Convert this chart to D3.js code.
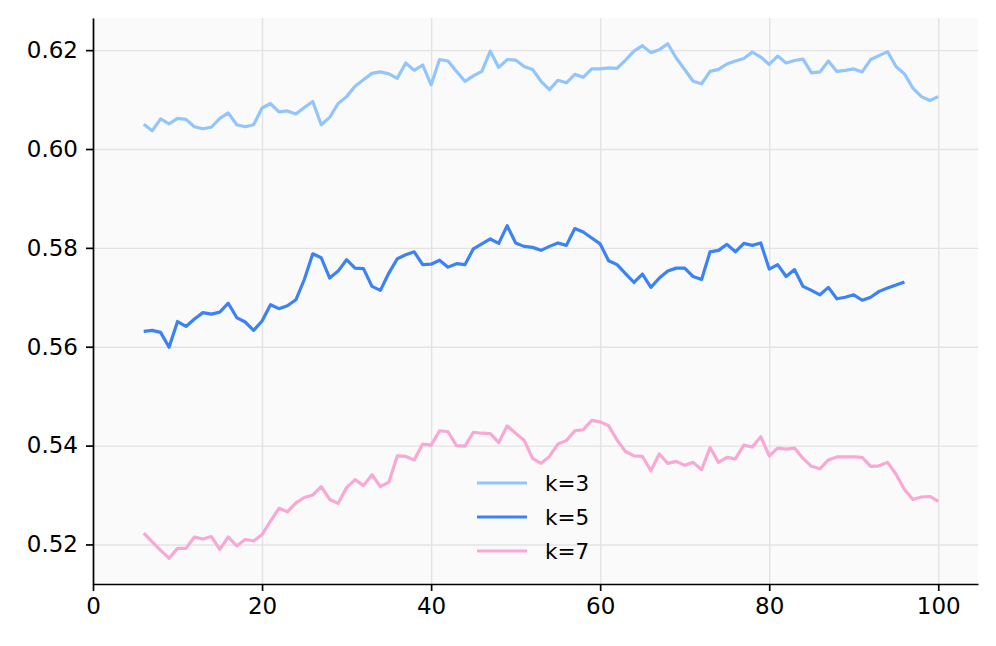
<!DOCTYPE html>
<html>
<head>
<meta charset="utf-8">
<script src="https://cdn.jsdelivr.net/npm/d3@7"></script>
<style>
  body { margin: 0; background: #fff; }
  text { font-family: "DejaVu Sans", sans-serif; }
</style>
</head>
<body>
<svg width="996" height="646"></svg>
<script>
// data, x runs from 6 in steps of 1
const xStart = 6;
const k3 = [0.6050, 0.6037, 0.6061, 0.6051, 0.6062, 0.6060, 0.6045, 0.6041, 0.6044, 0.6062,
            0.6073, 0.6049, 0.6045, 0.6049, 0.6083, 0.6092, 0.6075, 0.6077, 0.6071, 0.6084,
            0.6096, 0.6049, 0.6064, 0.6092, 0.6106, 0.6127, 0.6140, 0.6153, 0.6156, 0.6152,
            0.6143, 0.6174, 0.6159, 0.6170,
            0.6130, 0.6181, 0.6178, 0.6157, 0.6137, 0.6148, 0.6157, 0.6198, 0.6165, 0.6181,
            0.6180, 0.6167, 0.6161, 0.6137, 0.6120, 0.6139, 0.6134, 0.6151, 0.6145, 0.6162,
            0.6162, 0.6164, 0.6163, 0.6180, 0.6198, 0.6209, 0.6195, 0.6201, 0.6213, 0.6184,
            0.6161, 0.6137, 0.6132, 0.6157,
            0.6161, 0.6172, 0.6178, 0.6183, 0.6196, 0.6186, 0.6171, 0.6188, 0.6174, 0.6179,
            0.6182, 0.6154, 0.6156, 0.6178, 0.6157, 0.6159, 0.6162, 0.6156, 0.6181, 0.6189,
            0.6197, 0.6167, 0.6152, 0.6123, 0.6106, 0.6098, 0.6106];
const k5 = [0.5631, 0.5633, 0.5629, 0.5599, 0.5651, 0.5641, 0.5656, 0.5669, 0.5666, 0.5670,
            0.5688, 0.5659, 0.5650, 0.5633, 0.5652, 0.5685, 0.5677, 0.5683, 0.5695, 0.5736,
            0.5788, 0.5780, 0.5739, 0.5753, 0.5776, 0.5759, 0.5758, 0.5722, 0.5714, 0.5749,
            0.5778, 0.5786, 0.5792, 0.5766,
            0.5767, 0.5775, 0.5761, 0.5768, 0.5766, 0.5798, 0.5808, 0.5818, 0.5809, 0.5845,
            0.5810, 0.5803, 0.5801, 0.5795, 0.5803, 0.5810, 0.5805, 0.5839, 0.5832, 0.5820,
            0.5808, 0.5774, 0.5766, 0.5748, 0.5730, 0.5747, 0.5720, 0.5739, 0.5753, 0.5759,
            0.5759, 0.5742, 0.5736, 0.5792,
            0.5795, 0.5807, 0.5792, 0.5809, 0.5805, 0.5810, 0.5757, 0.5766, 0.5742, 0.5756,
            0.5722, 0.5714, 0.5705, 0.5720, 0.5697, 0.5700, 0.5705, 0.5694, 0.5700, 0.5712,
            0.5719, 0.5725, 0.5731];
const k7 = [0.5223, 0.5205, 0.5188, 0.5172, 0.5192, 0.5192, 0.5215, 0.5211, 0.5216, 0.5190,
            0.5215, 0.5197, 0.5210, 0.5207, 0.5220, 0.5247, 0.5273, 0.5266, 0.5284, 0.5295,
            0.5300, 0.5317, 0.5291, 0.5283, 0.5315, 0.5331, 0.5319, 0.5341, 0.5317, 0.5326,
            0.5379, 0.5378, 0.5371, 0.5403,
            0.5401, 0.5430, 0.5428, 0.5400, 0.5399, 0.5427, 0.5425, 0.5424, 0.5406, 0.5440,
            0.5425, 0.5411, 0.5374, 0.5364, 0.5378, 0.5403, 0.5410, 0.5430, 0.5432, 0.5451,
            0.5448, 0.5440, 0.5411, 0.5388, 0.5379, 0.5378, 0.5349, 0.5383, 0.5364, 0.5368,
            0.5360, 0.5366, 0.5351, 0.5396,
            0.5366, 0.5376, 0.5373, 0.5401, 0.5397, 0.5418, 0.5379, 0.5395, 0.5393, 0.5395,
            0.5374, 0.5358, 0.5353, 0.5371, 0.5377, 0.5377, 0.5377, 0.5376, 0.5358, 0.5359,
            0.5366, 0.5342, 0.5311, 0.5291, 0.5296, 0.5297, 0.5287];

const seriesNames = ["k=3", "k=5", "k=7"];
const seriesColors = ["#93c5fd", "#3b82f6", "#f9a8d4"];
const xTicks = [0, 20, 40, 60, 80, 100];
const yTicks = [0.52, 0.54, 0.56, 0.58, 0.60, 0.62];

const margin = {top: 18, right: 18, bottom: 62, left: 93};
const width = 996 - margin.left - margin.right;
const height = 646 - margin.top - margin.bottom;

const svg = d3.select("svg");
const chart = svg.append("g")
                 .attr("transform", `translate(${margin.left}, ${margin.top})`);

const allSeries = [k3, k5, k7];
const lastX = d3.max(allSeries, s => xStart + s.length - 1);
const allValues = allSeries.flat();
const yMin = d3.min(allValues), yMax = d3.max(allValues);
const yPad = (yMax - yMin) * 0.05;

// matplotlib-like limits: x starts at 0, 5% margin elsewhere
const xScale = d3.scaleLinear()
                 .domain([0, lastX + (lastX - xStart) * 0.05])
                 .range([0, width]);
const yScale = d3.scaleLinear()
                 .domain([yMin - yPad, yMax + yPad])
                 .range([height, 0]);

chart.append("rect")
     .attr("width", width)
     .attr("height", height)
     .attr("fill", "#fafafa");

// grid
chart.append("g")
     .attr("class", "grid")
     .attr("transform", `translate(0, ${height})`)
     .call(d3.axisBottom(xScale).tickValues(xTicks).tickSize(-height).tickFormat(""));
chart.append("g")
     .attr("class", "grid")
     .call(d3.axisLeft(yScale).tickValues(yTicks).tickSize(-width).tickFormat(""));
chart.selectAll(".grid .domain").remove();
chart.selectAll(".grid line").attr("stroke", "#e3e3e3").attr("stroke-width", 1.4);

// lines
const line = d3.line()
               .x((d, i) => xScale(xStart + i))
               .y(d => yScale(d));

chart.selectAll(".series")
     .data(allSeries)
     .enter()
     .append("path")
     .attr("class", "series")
     .attr("d", d => line(d))
     .attr("fill", "none")
     .attr("stroke", (d, i) => seriesColors[i])
     .attr("stroke-width", 3.2)
     .attr("stroke-linejoin", "round");

// axes
const xAxis = chart.append("g")
                   .attr("transform", `translate(0, ${height})`)
                   .call(d3.axisBottom(xScale).tickValues(xTicks).tickSize(7).tickPadding(7).tickSizeOuter(0));
const yAxis = chart.append("g")
                   .call(d3.axisLeft(yScale).tickValues(yTicks).tickFormat(d3.format(".2f"))
                           .tickSize(7).tickPadding(8).tickSizeOuter(0));
[xAxis, yAxis].forEach(ax => {
  ax.select(".domain").attr("stroke", "#000").attr("stroke-width", 1.7);
  ax.selectAll(".tick line").attr("stroke", "#000").attr("stroke-width", 1.7);
  ax.selectAll(".tick text").attr("fill", "#000").style("font-size", "23px")
    .style("font-family", "DejaVu Sans, sans-serif");
});

// legend
const legend = chart.append("g")
                    .attr("transform", `translate(${384}, ${465})`);
seriesNames.forEach((name, i) => {
  const row = legend.append("g").attr("transform", `translate(0, ${i * 34})`);
  row.append("line")
     .attr("x1", 0).attr("x2", 50)
     .attr("stroke", seriesColors[i])
     .attr("stroke-width", 3.2);
  row.append("text")
     .attr("x", 68)
     .attr("dy", "0.35em")
     .style("font-size", "21.5px")
     .text(name);
});
</script>
</body>
</html>
